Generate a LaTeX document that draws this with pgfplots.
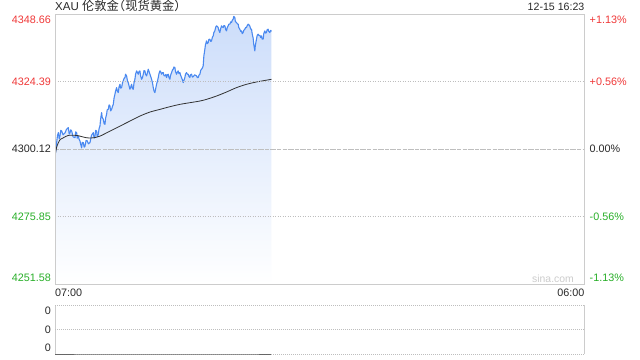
\documentclass[border=0pt]{standalone}
\usepackage{pgfplots}
\pgfplotsset{compat=1.18}
\usepackage{pgfplotstable}
\usepackage{fontspec}
\setmainfont{Liberation Sans}
\newfontfamily\cjk{Noto Sans CJK SC}
\definecolor{upred}{RGB}{240,56,56}
\definecolor{dngreen}{RGB}{40,175,40}
\definecolor{txt}{RGB}{40,40,40}
\definecolor{frame}{RGB}{204,204,204}
\definecolor{gridc}{RGB}{190,190,190}
\definecolor{pline}{RGB}{74,137,240}
\definecolor{ftop}{RGB}{204,221,250}
\newcommand\lbl{\fontsize{10.8bp}{13bp}\selectfont}
\newcommand\dn[1]{\raisebox{-5.5bp}[7.7bp][0pt]{#1}}
\newcommand\up[1]{\raisebox{6bp}[7.7bp][0pt]{#1}}

\pgfplotstableread{
t v
0 4297.5
2 4299.5
4.3 4302.4
6.5 4305.0
8.7 4306.0
11 4303.8
13.0 4304.8
15 4306.8
17.4 4306.6
21 4305.2
26.0 4305.9
30 4307.2
34.7 4307.8
37 4305.5
39.1 4305.9
41 4307.0
43.4 4306.6
47 4304.5
52.1 4304.2
54 4306.3
56.4 4306.0
58 4304.0
60.8 4304.8
63 4303.5
65.1 4303.0
67 4301.8
69.4 4300.5
71 4302.5
73.8 4302.4
76 4300.8
78.1 4301.1
81 4303.2
84.2 4303.0
87 4302.0
91.1 4302.4
95 4305.0
99.8 4306.0
102 4304.0
104.2 4304.8
106 4306.8
108.5 4306.6
110 4304.5
112.8 4305.4
115 4307.5
117.2 4308.4
119 4311.0
121.5 4313.2
123 4311.5
125.9 4310.8
128 4309.2
130.2 4309.0
132 4311.3
134.5 4312.6
136 4314.2
138.9 4314.4
141 4316.0
143.2 4315.6
145 4313.8
147.6 4314.4
150 4315.5
151.9 4316.2
154 4318.5
156.2 4319.8
158 4321.0
160.6 4322.2
162 4321.2
164.9 4320.4
167 4322.5
169.3 4323.4
171 4322.0
173.6 4322.2
176 4324.0
177.9 4324.6
180 4325.5
182.3 4325.8
184 4327.0
186.6 4326.4
189 4324.5
191.0 4324.0
193 4322.8
195.3 4321.6
197 4322.2
199.6 4323.4
202 4321.8
204.0 4321.6
206 4324.0
208.3 4325.2
210 4327.0
212.7 4328.2
215 4327.6
217.0 4327.0
219 4328.0
221.3 4328.2
223 4326.5
225.7 4325.2
228 4325.8
230.0 4327.0
232 4328.3
234.4 4328.2
236 4327.0
238.7 4326.4
241 4327.6
243.0 4328.8
245 4328.0
247.4 4327.0
249 4326.4
251.7 4325.2
254 4324.0
256.1 4322.2
258 4321.0
260.4 4320.4
262 4321.5
264.7 4323.4
267 4324.5
269.1 4325.8
271 4327.2
273.4 4328.2
275 4328.0
277.8 4327.0
280 4327.6
282.1 4327.6
284 4326.5
286.4 4326.4
289 4326.9
290.8 4325.8
293 4326.8
295.1 4327.0
297 4325.8
299.4 4325.2
301 4326.5
303.8 4327.6
306 4328.5
308.1 4328.8
310 4329.6
312.5 4329.4
314 4328.0
316.8 4327.0
319 4327.8
321.1 4328.2
323 4327.2
325.5 4327.6
327 4326.8
329.8 4325.8
332 4325.0
334.2 4324.0
336 4324.8
338.5 4325.8
340 4327.0
342.8 4327.6
345 4327.0
347.2 4327.0
349 4326.2
351.5 4325.8
353 4326.8
355.9 4327.0
358 4326.0
360.2 4326.1
364 4326.8
368.9 4326.4
371 4325.8
373.2 4325.8
375 4326.6
377.6 4327.0
380 4328.5
381.9 4328.8
384 4329.2
386.2 4330.0
388.0 4333.6
390.6 4336.0
392 4337.5
394.9 4339.0
397 4338.0
399.3 4338.4
401 4339.5
403.6 4339.6
406 4338.8
407.9 4339.0
410 4340.2
412.3 4340.8
414 4342.0
416.6 4342.6
419 4344.0
421.0 4344.4
423 4344.2
425.3 4343.8
427 4342.8
429.6 4342.0
432 4343.5
434.0 4344.4
436 4344.0
438.3 4343.8
440 4344.5
442.7 4344.4
445 4343.0
447.0 4342.6
449 4343.8
451.3 4344.4
453 4345.0
455.7 4345.0
458 4345.8
460.0 4345.6
462 4346.4
464.4 4346.8
466 4347.8
468.7 4347.4
470 4346.0
473.0 4345.6
475 4345.2
477.4 4345.0
479 4343.8
481.7 4343.2
484 4342.4
486.1 4342.6
488 4341.6
490.4 4342.0
492 4342.8
494.7 4343.2
497 4343.8
499.1 4343.8
501 4344.5
503.4 4345.0
505 4344.8
507.7 4344.4
510 4343.2
512.1 4343.2
514 4341.5
516.4 4340.0
518 4337.8
520.8 4335.4
522 4337.2
525.1 4339.6
527 4341.0
529.4 4341.4
531 4341.0
533.8 4341.0
536 4340.2
538.1 4340.8
540 4339.6
542.5 4339.6
544 4341.5
546.8 4342.6
549 4341.8
551.1 4342.0
553 4343.0
555.5 4343.2
557 4342.4
559.8 4342.0
562 4342.8
564.2 4342.4
}\price

\pgfplotstableread{
t v
0 4297.5
4 4300.6
8.7 4302.35
14 4303.6
21.7 4304.15
34.7 4305.0
56.4 4305.0
82.5 4304.15
99.8 4304.15
117.2 4304.75
143.2 4306.55
169.3 4308.35
195.3 4310.16
221.3 4311.96
247.4 4313.40
273.4 4314.36
299.4 4315.33
325.5 4316.17
351.5 4316.77
377.6 4317.37
394.9 4317.97
421.0 4319.17
447.0 4320.61
473.0 4322.18
499.1 4323.38
525.1 4324.22
564.2 4325.18
}\avg

\pgfplotstableread{
t v
0 0
100 0
200 0
300 0
400 0
500 0
564.2 0
}\vol

\begin{document}
\begin{tikzpicture}
\useasboundingbox (0,0) rectangle (640bp,360bp);
\fill[white] (0,0) rectangle (640bp,360bp);

% main price axis
\begin{axis}[
  at={(55bp,76bp)}, anchor=south west,
  scale only axis, width=529.5bp, height=270bp,
  xmin=0, xmax=1380, ymin=4251.58, ymax=4348.66,
  axis line style={draw=frame},
  major tick length=0pt,
  xtick={0,1380},
  xticklabels={\makebox[0pt][l]{07:00},\makebox[0pt][r]{06:00}},
  xticklabel style={anchor=north, inner sep=0pt, yshift=-5bp, font=\lbl, text=txt},
  ytick={4251.58,4275.85,4300.12,4324.39,4348.66},
  yticklabels={
    \up{\textcolor{dngreen}{4251.58}},
    \textcolor{dngreen}{4275.85},
    \textcolor{txt}{4300.12},
    \textcolor{upred}{4324.39},
    \dn{\textcolor{upred}{4348.66}}},
  yticklabel style={anchor=east, inner sep=0pt, xshift=-4bp, font=\lbl},
  ymajorgrids,
  major y grid style={draw=gridc, line width=0.6bp, dash pattern=on 1bp off 1.5bp},
  axis on top,
  clip=true,
]
\addplot[draw=none, top color=ftop, bottom color=white] table[x=t,y=v] {\price} |- (axis cs:0,4251.58) -- cycle;
\addplot[draw=gray!50, line width=0.7bp, dash pattern=on 4bp off 2bp] coordinates {(0,4300.12) (1380,4300.12)};
\addplot[draw=pline, line width=1.1bp, line join=round] table[x=t,y=v] {\price};
\addplot[draw=black!80, line width=0.8bp, smooth] table[x=t,y=v] {\avg};
\end{axis}

% right percentage labels
\begin{axis}[
  at={(55bp,76bp)}, anchor=south west,
  scale only axis, width=529.5bp, height=270bp,
  xmin=0, xmax=1380, ymin=4251.58, ymax=4348.66,
  hide x axis,
  axis y line*=right,
  axis line style={draw=none},
  major tick length=0pt,
  ytick={4251.58,4275.85,4300.12,4324.39,4348.66},
  yticklabels={
    \up{\textcolor{dngreen}{-1.13\%}},
    \textcolor{dngreen}{-0.56\%},
    \textcolor{txt}{0.00\%},
    \textcolor{upred}{+0.56\%},
    \dn{\textcolor{upred}{+1.13\%}}},
  yticklabel style={anchor=west, inner sep=0pt, xshift=5bp, font=\lbl},
]
\addplot[draw=none] coordinates {(0,4300.12)};
\end{axis}

% volume axis
\begin{axis}[
  at={(55bp,6bp)}, anchor=south west,
  scale only axis, width=529.5bp, height=49bp,
  xmin=0, xmax=1380, ymin=0, ymax=2,
  axis line style={draw=none},
  major tick length=0pt,
  xtick={0,1380}, xticklabels={},
  xmajorgrids,
  major x grid style={draw=frame, line width=0.8bp},
  ytick={0,1,2},
  yticklabels={\up{0},0,\dn{0}},
  yticklabel style={anchor=east, inner sep=0pt, xshift=-4bp, font=\lbl, text=txt},
  ymajorgrids,
  major y grid style={draw=gridc, line width=0.8bp, dash pattern=on 1bp off 1bp},
  clip=false,
]
\addplot[draw=black!60, line width=1bp] table[x=t,y=v] {\vol};
\end{axis}

% titles and watermark
\node[anchor=base west, inner sep=0pt, text=txt] at (55bp,349bp)
  {\fontsize{11.5bp}{13bp}\selectfont XAU {\cjk\fontsize{12.3bp}{13bp}\selectfont 伦敦金\kern-6bp（现货黄金）}};
\node[anchor=base east, inner sep=0pt, text=txt] at (584.5bp,349bp)
  {\fontsize{10.6bp}{13bp}\selectfont 12-15 16:23};
\node[anchor=base west, inner sep=0pt, text=black!20] at (532bp,77.5bp)
  {\fontsize{10.4bp}{13bp}\selectfont sina.com};
\end{tikzpicture}
\end{document}
